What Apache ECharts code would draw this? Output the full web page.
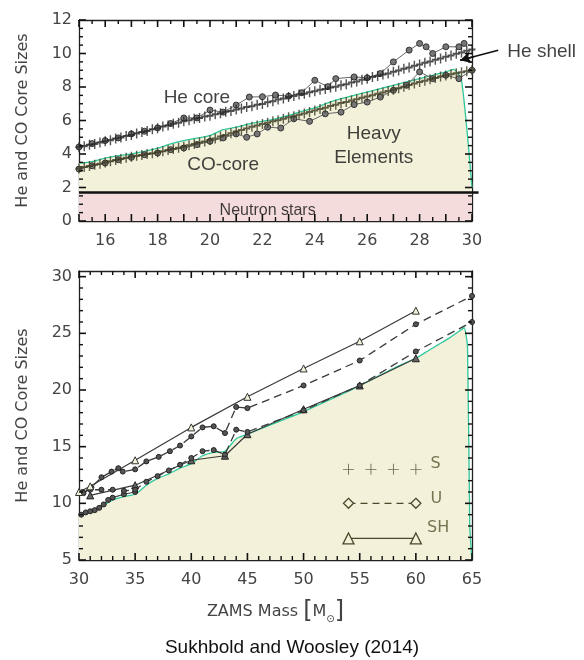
<!DOCTYPE html>
<html><head><meta charset="utf-8">
<script src="https://cdn.jsdelivr.net/npm/echarts@6/dist/echarts.min.js"></script>
<style>html,body{margin:0;padding:0;background:#fff}#c{width:584px;height:660px}</style>
</head><body><div id="c"></div>
<script>
// ---------- AXIS RANGES & TICKS ----------
const topXRange = [15, 30];
const topYRange = [0, 12];
const botXRange = [30, 65];
const botYRange = [5, 30.5];
const topXTicksMajor = [15,16,17,18,19,20,21,22,23,24,25,26,27,28,29,30];
const topXTicksMinor = [15.5,16.5,17.5,18.5,19.5,20.5,21.5,22.5,23.5,24.5,25.5,26.5,27.5,28.5,29.5];
const topYTicksMajor = [0,2,4,6,8,10,12];
const topYTicksMinor = [0.5,1,1.5,2.5,3,3.5,4.5,5,5.5,6.5,7,7.5,8.5,9,9.5,10.5,11,11.5];
const botXTicksMajor = [30,35,40,45,50,55,60,65];
const botXTicksMinor = [31,32,33,34,36,37,38,39,41,42,43,44,46,47,48,49,51,52,53,54,56,57,58,59,61,62,63,64];
const botYTicksMajor = [5,10,15,20,25,30];
const botYTicksMinor = [6,7,8,9,11,12,13,14,16,17,18,19,21,22,23,24,26,27,28,29];

// ---------- TOP PANEL DATA (ZAMS mass 15-30) ----------
const topMass = [15.0,15.2,15.4,15.6,15.8,16.0,16.2,16.4,16.6,16.8,17.0,17.2,17.4,17.6,17.8,18.0,18.2,18.4,18.6,18.8,19.0,19.2,19.4,19.6,19.8,20.0,20.2,20.4,20.6,20.8,21.0,21.2,21.4,21.6,21.8,22.0,22.2,22.4,22.6,22.8,23.0,23.2,23.4,23.6,23.8,24.0,24.2,24.4,24.6,24.8,25.0,25.2,25.4,25.6,25.8,26.0,26.2,26.4,26.6,26.8,27.0,27.2,27.4,27.6,27.8,28.0,28.2,28.4,28.6,28.8,29.0,29.2,29.4,29.6,29.8,30.0];
const heCoreS = [4.40,4.46,4.55,4.60,4.69,4.76,4.82,4.92,4.98,5.08,5.14,5.22,5.32,5.38,5.48,5.54,5.64,5.70,5.80,5.86,5.96,6.01,6.10,6.15,6.24,6.29,6.38,6.43,6.52,6.57,6.66,6.71,6.80,6.85,6.94,6.99,7.09,7.15,7.25,7.31,7.41,7.46,7.55,7.60,7.69,7.74,7.83,7.88,7.97,8.02,8.11,8.17,8.27,8.33,8.43,8.49,8.59,8.65,8.75,8.81,8.91,8.98,9.09,9.16,9.27,9.34,9.45,9.52,9.63,9.70,9.81,9.88,9.99,10.06,10.17,10.24];
const coCoreS = [3.14,3.22,3.28,3.36,3.42,3.50,3.56,3.64,3.70,3.78,3.84,3.90,3.94,4.00,4.04,4.10,4.16,4.24,4.30,4.38,4.44,4.52,4.59,4.68,4.75,4.84,4.93,5.04,5.13,5.24,5.34,5.43,5.52,5.62,5.70,5.79,5.86,5.95,6.02,6.11,6.19,6.26,6.35,6.42,6.51,6.59,6.68,6.76,6.86,6.94,7.04,7.11,7.20,7.27,7.36,7.44,7.51,7.60,7.67,7.76,7.84,7.93,8.02,8.12,8.21,8.30,8.37,8.46,8.53,8.62,8.69,8.76,8.82,8.88,8.94,9.00];
const heUMass = [15.0,15.5,16.0,16.5,17.0,17.5,18.0,18.5,19.0,19.5,20.0,20.5,21.0,21.5,22.0,22.5,23.0,23.5,24.0,24.5,24.8,25.5,26.0,26.5,27.0,27.6,28.0,28.25,28.5,29.0,29.5,29.7];
const heUVal  = [4.42,4.62,4.80,4.96,5.20,5.36,5.56,5.82,6.15,6.15,6.62,6.50,6.92,7.40,7.42,7.52,7.45,7.66,8.40,8.02,8.50,8.60,8.55,8.80,9.50,10.2,10.6,10.4,10.0,10.4,10.4,10.6];
const coUMass = [15.0,15.5,16.0,16.5,17.0,17.5,18.0,18.5,19.0,19.5,20.0,20.5,21.0,21.4,21.8,22.2,22.7,23.2,23.8,24.4,25.0,25.5,26.0,26.5,27.0,27.5,28.0,28.5,29.0,29.5,30.0];
const coUVal  = [3.10,3.30,3.46,3.66,3.80,3.96,4.06,4.26,4.36,4.56,4.76,4.96,5.20,5.00,5.20,5.60,5.55,6.10,5.95,6.40,6.50,6.95,7.10,7.40,7.80,8.10,8.90,8.50,8.70,8.50,9.00];
const heavyTopMass = [15,15.5,16,16.5,17,17.5,18,18.5,19,19.5,20,20.5,21,21.5,22,22.5,23,23.5,24,24.5,25,25.5,26,26.5,27,27.5,28,28.5,29,29.3,29.6,30];
const heavyTopVal  = [3.45,3.55,3.75,3.90,4.00,4.15,4.35,4.60,4.80,4.95,5.10,5.45,5.60,5.80,5.95,6.10,6.30,6.55,6.75,7.05,7.30,7.50,7.70,7.90,8.10,8.30,8.50,8.70,8.90,9.05,8.40,2.00];
const heavyFloor = 1.75;
const nsMass = [15,30];
const nsVal = [1.7,1.7];
const nsLineEnd = [30.25,1.7];
const shellArrowFrom = [31.0,10.2];
const shellArrowTo = [29.55,9.6];
const topTextPos = [[19.5,7.35],[20.5,3.35],[26.25,4.5],[22.2,0.62],[31.35,10.1]];
const topTexts = ['He core','CO-core','Heavy\nElements','Neutron stars','He shell'];

// ---------- BOTTOM PANEL DATA (ZAMS mass 30-65) ----------
const bHeavyMass = [30,30.5,31,32,33,34,35,36,37,38,39,40,41,42,43,44,45,46,48,50,52,54,56,58,60,61,62,63,64,64.3,64.6,64.8,65];
const bHeavyVal  = [8.9,9.1,9.3,9.7,10.3,10.6,10.8,11.6,12.2,12.6,13.1,13.5,14.2,14.5,14.6,15.7,16.1,16.5,17.3,18.1,19.0,19.9,20.9,21.9,22.8,23.4,24.0,24.6,25.3,25.5,23.8,8.0,5.0];
const bSHHeMass = [30,31,35,40,45,50,55,60];
const bSHHeVal  = [11.0,11.5,13.8,16.7,19.4,21.9,24.3,27.0];
const bUHeMass = [30.4,31.1,32,32.9,33.5,33.9,35,36,37.1,38.1,39,40,41,42,43,44,45,50,55,60,65];
const bUHeVal  = [10.9,11.4,12.3,12.8,13.1,12.8,13.0,13.7,14.1,14.6,15.1,15.9,16.7,16.8,16.2,18.5,18.4,20.4,22.6,25.8,28.3];
const bUCOMass = [30.3,31,32,33,34,35,36,37,38,39,40,41,42,43,44,45,50,55,60,65];
const bUCOVal  = [11.0,11.2,11.2,11.2,11.1,11.2,11.9,12.4,12.9,13.4,14.0,14.6,14.7,14.3,16.5,16.3,18.2,20.4,23.4,26.0];
const bSCOMass = [30.2,30.6,31,31.4,31.8,32.2,32.6,33,34,35];
const bSCOVal  = [9.0,9.2,9.3,9.4,9.6,9.9,10.3,10.5,10.8,11.0];
const bSHCOMass = [31,35,40,43,45,50,55,60];
const bSHCOVal  = [10.7,11.6,13.8,14.2,16.1,18.3,20.4,22.8];
const legSMass = [54,56,58,60];
const legSVal  = [13.0,13.0,13.0,13.0];
const legUMass = [54,60];
const legUVal  = [10.0,10.0];
const legSHMass = [54,60];
const legSHVal  = [6.9,6.9];
const legTextPos = [[61.3,13.5],[61.3,10.4],[61.0,7.8]];
const legTexts = ['S','U','SH'];

// ---------- helpers ----------
const zip = (xs, ys) => xs.map((x, i) => [x, ys[i]]);
const PLUS = 'path://M4,0L6,0L6,4L10,4L10,6L6,6L6,10L4,10L4,6L0,6L0,4L4,4Z';
const PLUS_THIN = 'path://M4.6,0L5.4,0L5.4,4.6L10,4.6L10,5.4L5.4,5.4L5.4,10L4.6,10L4.6,5.4L0,5.4L0,4.6L4.6,4.6Z';
const lblStyle = () => ({fontFamily:'DejaVu Sans', fontSize:16, color:'#444'});
function axis(o) {
  return Object.assign({
    type:'value',
    axisLine:{show:true, onZero:false, lineStyle:{color:'#222', width:1.3}},
    axisTick:{show:false}, minorTick:{show:false},
    splitLine:{show:false}
  }, o);
}

const chart = echarts.init(document.getElementById('c'));
const textSeries = (xi, yi, pos, texts, styles) => ({
  type:'scatter', xAxisIndex:xi, yAxisIndex:yi, symbolSize:0, clip:false, z:10, silent:true,
  data: pos.map((p, i) => ({value:p, label:Object.assign({show:true, position:'inside', formatter:texts[i]}, styles[i])}))
});
const annot = () => ({fontFamily:'Liberation Sans', color:'#111', fontSize:19, align:'center', verticalAlign:'middle', lineHeight:24});

chart.setOption({
  animation:false,
  backgroundColor:'#fff',
  title:{text:'Sukhbold and Woosley (2014)', left:'center', top:633,
    textStyle:{fontFamily:'Liberation Sans', fontSize:19, fontWeight:'normal', color:'#111'}},
  grid:[{left:79, right:112, top:20, height:201}, {left:79, right:112, top:271, height:289}],
  xAxis:[
    axis({gridIndex:0, position:'bottom', min:topXRange[0], max:topXRange[1], interval:1,
      axisLabel:Object.assign({margin:12, formatter:v => (v % 2 === 0 ? String(v) : '')}, lblStyle())}),
    axis({gridIndex:0, position:'top', min:topXRange[0], max:topXRange[1], interval:1, axisLabel:{show:false}}),
    axis({gridIndex:1, position:'bottom', min:botXRange[0], max:botXRange[1], interval:5,
      axisLabel:Object.assign({margin:12}, lblStyle()),
      name:'{a|ZAMS Mass }{b|[}{a|M}{c|⊙}{b|]}', nameLocation:'middle', nameGap:40,
      nameTextStyle:{rich:{a:{fontFamily:'DejaVu Sans', fontSize:16, color:'#444'}, b:{fontFamily:'DejaVu Sans', fontSize:24, color:'#444'}, c:{fontFamily:'DejaVu Sans', fontSize:10, color:'#444', padding:[14,0,0,0]}}}}),
    axis({gridIndex:1, position:'top', min:botXRange[0], max:botXRange[1], interval:5, axisLabel:{show:false}})
  ],
  yAxis:[
    axis({gridIndex:0, position:'left', min:topYRange[0], max:topYRange[1], interval:2,
      axisLabel:Object.assign({margin:7}, lblStyle()),
      name:'He and CO Core Sizes', nameLocation:'middle', nameGap:48, nameRotate:90,
      nameTextStyle:{fontFamily:'DejaVu Sans', fontSize:16, color:'#444'}}),
    axis({gridIndex:0, position:'right', min:topYRange[0], max:topYRange[1], interval:2, axisLabel:{show:false}}),
    axis({gridIndex:1, position:'left', min:botYRange[0], max:botYRange[1], interval:5,
      axisLabel:Object.assign({margin:7, formatter:v => (v % 5 === 0 ? String(v) : '')}, lblStyle()),
      name:'He and CO Core Sizes', nameLocation:'middle', nameGap:48, nameRotate:90,
      nameTextStyle:{fontFamily:'DejaVu Sans', fontSize:16, color:'#444'}}),
    axis({gridIndex:1, position:'right', min:botYRange[0], max:botYRange[1], interval:5, axisLabel:{show:false}})
  ],
  series:[
    // ---- top panel ----
    {type:'line', xAxisIndex:0, yAxisIndex:0, data:zip(nsMass, nsVal), symbol:'none', z:1,
      lineStyle:{width:0}, areaStyle:{color:'#f5dcdc', opacity:1, origin:'start'}},
    {type:'line', xAxisIndex:0, yAxisIndex:0, data:zip(heavyTopMass, heavyTopVal), symbol:'none', z:2, smooth:0.2,
      lineStyle:{color:'#2fc79b', width:1.3}, areaStyle:{color:'#f3f1da', opacity:1, origin:heavyFloor}},
    {type:'line', xAxisIndex:0, yAxisIndex:0, data:zip(nsMass, nsVal), symbol:'none', z:3,
      lineStyle:{color:'#111', width:2.5}},
    {type:'line', xAxisIndex:0, yAxisIndex:0, data:zip(coUMass, coUVal), z:4, symbol:'circle', symbolSize:6,
      lineStyle:{color:'#666', width:1}, itemStyle:{color:'#777', borderColor:'#333', borderWidth:1}},
    {type:'scatter', xAxisIndex:0, yAxisIndex:0, data:zip(topMass, coCoreS), z:5, symbol:PLUS, symbolSize:[7,10],
      itemStyle:{color:'#3b3920'}},
    {type:'line', xAxisIndex:0, yAxisIndex:0, data:zip(heUMass, heUVal), z:4, symbol:'circle', symbolSize:6,
      lineStyle:{color:'#666', width:1}, itemStyle:{color:'#777', borderColor:'#333', borderWidth:1}},
    {type:'scatter', xAxisIndex:0, yAxisIndex:0, data:zip(topMass, heCoreS), z:5, symbol:PLUS, symbolSize:[7,10],
      itemStyle:{color:'#262626'}},
    {id:'shellArrow', type:'line', xAxisIndex:0, yAxisIndex:0, clip:false, z:6, symbolSize:[9,11],
      lineStyle:{color:'#111', width:1.6}, itemStyle:{color:'#111'},
      data:[{value:shellArrowFrom, symbol:'none'}, {value:shellArrowTo, symbol:'arrow', symbolRotate:0}]},
    textSeries(0, 0, topTextPos, topTexts, [
      annot(), annot(), annot(),
      Object.assign(annot(), {fontSize:16}),
      Object.assign(annot(), {align:'left'})
    ]),
    // ---- bottom panel ----
    {type:'line', xAxisIndex:2, yAxisIndex:2, data:zip(bHeavyMass, bHeavyVal), symbol:'none', z:2, smooth:0.2,
      lineStyle:{color:'#2fc79b', width:1.3}, areaStyle:{color:'#f3f1da', opacity:1, origin:'start'}},
    {type:'line', xAxisIndex:2, yAxisIndex:2, data:zip(bSCOMass, bSCOVal), z:4, symbol:'circle', symbolSize:5,
      lineStyle:{color:'#3a3a3a', width:1.2}, itemStyle:{color:'#555', borderColor:'#222', borderWidth:1}},
    {type:'line', xAxisIndex:2, yAxisIndex:2, data:zip(bSHCOMass, bSHCOVal), z:4, symbol:'triangle', symbolSize:7,
      lineStyle:{color:'#3a3a3a', width:1.2}, itemStyle:{color:'#666', borderColor:'#222', borderWidth:1}},
    {type:'line', xAxisIndex:2, yAxisIndex:2, data:zip(bUCOMass, bUCOVal), z:4, symbol:'circle', symbolSize:5,
      lineStyle:{color:'#3a3a3a', width:1.3, type:[8,5]}, itemStyle:{color:'#555', borderColor:'#222', borderWidth:1}},
    {type:'line', xAxisIndex:2, yAxisIndex:2, data:zip(bUHeMass, bUHeVal), z:4, symbol:'circle', symbolSize:5,
      lineStyle:{color:'#3a3a3a', width:1.3, type:[8,5]}, itemStyle:{color:'#555', borderColor:'#222', borderWidth:1}},
    {type:'line', xAxisIndex:2, yAxisIndex:2, data:zip(bSHHeMass, bSHHeVal), z:4, symbol:'triangle', symbolSize:7,
      lineStyle:{color:'#3a3a3a', width:1.2}, itemStyle:{color:'#f3f1da', borderColor:'#333', borderWidth:1}},
    {type:'scatter', xAxisIndex:2, yAxisIndex:2, data:zip(legSMass, legSVal), z:6, symbol:PLUS_THIN, symbolSize:11,
      itemStyle:{color:'#4a4a2a'}},
    {type:'line', xAxisIndex:2, yAxisIndex:2, data:zip(legUMass, legUVal), z:6, symbol:'diamond', symbolSize:10,
      lineStyle:{color:'#4a4a2a', width:1.2, type:[7,5]}, itemStyle:{color:'#f3f1da', borderColor:'#4a4a2a', borderWidth:1.3}},
    {type:'line', xAxisIndex:2, yAxisIndex:2, data:zip(legSHMass, legSHVal), z:6, symbol:'triangle', symbolSize:11,
      lineStyle:{color:'#4a4a2a', width:1.2}, itemStyle:{color:'#f3f1da', borderColor:'#4a4a2a', borderWidth:1.3}},
    textSeries(2, 2, legTextPos, legTexts, legTexts.map(() => ({fontFamily:'DejaVu Sans', fontSize:16, color:'#55552e', align:'left', verticalAlign:'middle'})))
  ]
});

// ---------- overlay: inward ticks, arrow shaft, band-line overhang (positions from the axes' scales) ----------
try {
  const els = [];
  const seg = (x1, y1, x2, y2, w, c) => ({type:'line', z:100, shape:{x1, y1, x2, y2}, style:{stroke:c || '#111', lineWidth:w || 1.6}});
  function addTicks(xi, yi, xr, yr, xMaj, xMin, yMaj, yMin) {
    const f = {xAxisIndex:xi, yAxisIndex:yi};
    const px = v => chart.convertToPixel(f, v);
    const doX = (vals, L, w) => vals.forEach(v => {
      const b = px([v, yr[0]]), t = px([v, yr[1]]);
      els.push(seg(b[0], b[1], b[0], b[1] - L, w), seg(t[0], t[1], t[0], t[1] + L, w));
    });
    const doY = (vals, L, w) => vals.forEach(v => {
      const l = px([xr[0], v]), r = px([xr[1], v]);
      els.push(seg(l[0], l[1], l[0] + L, l[1], w), seg(r[0], r[1], r[0] - L, r[1], w));
    });
    doX(xMaj, 7, 1.6); doX(xMin, 4, 1.4); doY(yMaj, 7, 1.6); doY(yMin, 4, 1.4);
  }
  addTicks(0, 0, topXRange, topYRange, topXTicksMajor, topXTicksMinor, topYTicksMajor, topYTicksMinor);
  addTicks(2, 2, botXRange, botYRange, botXTicksMajor, botXTicksMinor, botYTicksMajor, botYTicksMinor);

  const f0 = {xAxisIndex:0, yAxisIndex:0};
  const p1 = chart.convertToPixel(f0, shellArrowFrom);
  const p2 = chart.convertToPixel(f0, shellArrowTo);
  els.push(seg(p1[0], p1[1], p2[0], p2[1], 1.6, '#111'));
  const n1 = chart.convertToPixel(f0, [nsMass[1], nsVal[1]]);
  const n2 = chart.convertToPixel(f0, nsLineEnd);
  els.push(seg(n1[0], n1[1], n2[0], n2[1], 2.5, '#111'));

  const rot = -90 - Math.atan2(p2[1] - p1[1], p2[0] - p1[0]) * 180 / Math.PI;
  chart.setOption({
    series:[{id:'shellArrow', data:[{value:shellArrowFrom, symbol:'none'}, {value:shellArrowTo, symbol:'arrow', symbolRotate:rot}]}],
    graphic:{elements:els}
  });
} catch (e) { console.error(e); }
</script>
</body></html>
